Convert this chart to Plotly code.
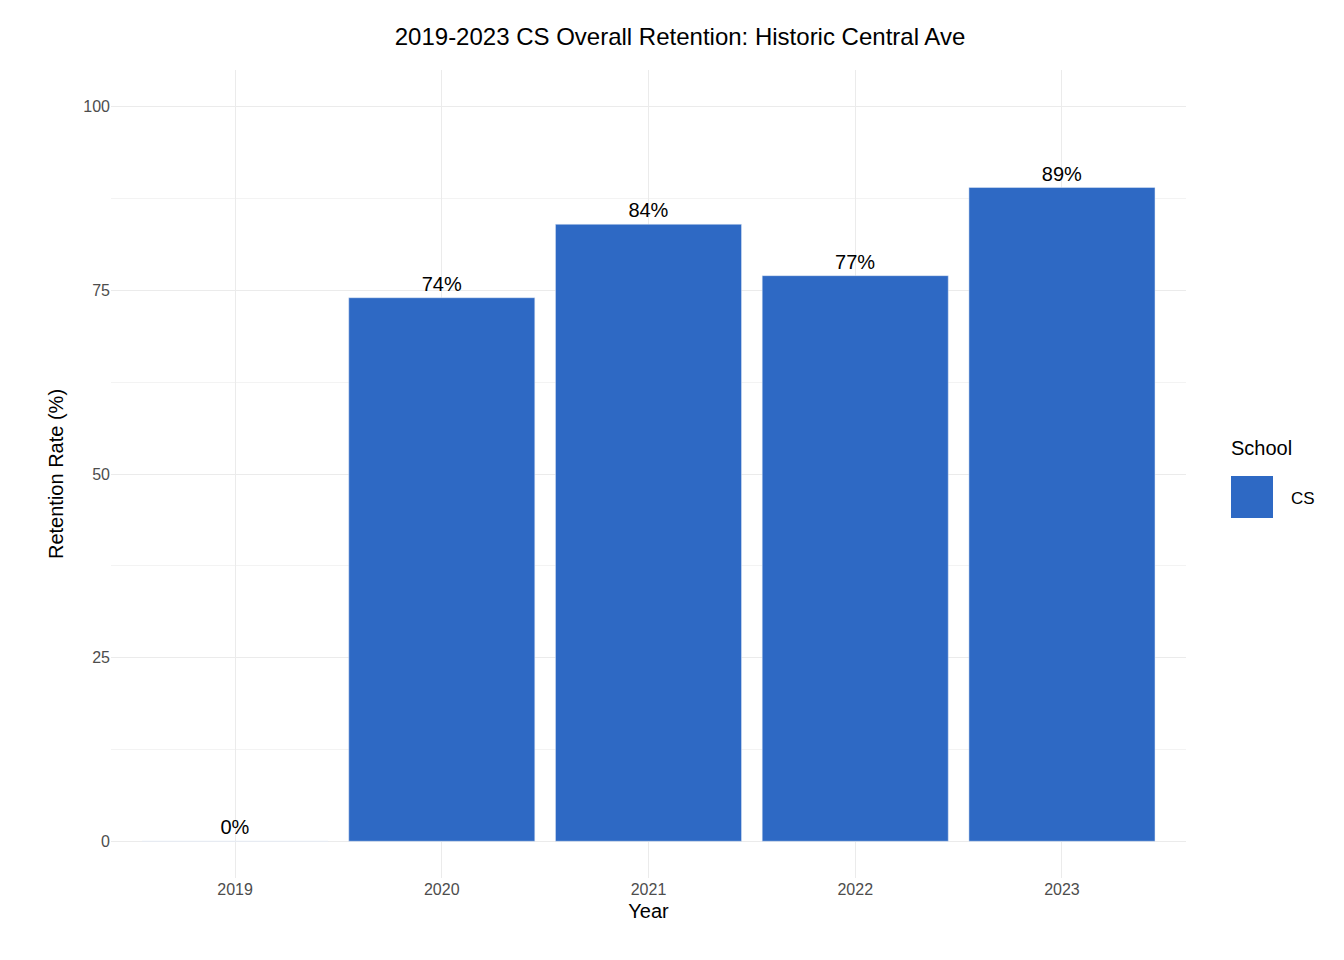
import plotly.graph_objects as go

years = ["2019", "2020", "2021", "2022", "2023"]
retention = [0, 74, 84, 77, 89]
labels = ["0%", "74%", "84%", "77%", "89%"]
bar_color = "#2E69C4"

fig = go.Figure(go.Bar(
    x=years, y=retention, text=labels, textposition="outside",
    textfont=dict(size=20, color="black"), marker_color=bar_color,
    width=0.9, cliponaxis=False, showlegend=False))

fig.update_layout(
    width=1344, height=960, plot_bgcolor="white", paper_bgcolor="white",
    font=dict(family="Liberation Sans, Arial", color="black"),
    margin=dict(l=103, r=166, t=62, b=90),
    title=dict(text="2019-2023 CS Overall Retention: Historic Central Ave",
               x=0.5, xanchor="center", y=0.97, yanchor="middle",
               font=dict(size=24)),
    xaxis=dict(type="category", range=[-0.6, 4.6], showgrid=True,
               gridcolor="#EBEBEB", tickfont=dict(size=16, color="#4D4D4D"),
               title=dict(text="Year", font=dict(size=20), standoff=6),
               ticks="", zeroline=False),
    yaxis=dict(range=[-5, 105], tickvals=[0, 25, 50, 75, 100],
               gridcolor="#EBEBEB", tickfont=dict(size=16, color="#4D4D4D"),
               minor=dict(tickvals=[12.5, 37.5, 62.5, 87.5], showgrid=True,
                          gridcolor="#F3F3F3"),
               title=dict(text="Retention Rate (%)", font=dict(size=20), standoff=14),
               zeroline=False, ticks=""),
)

fig.add_annotation(x=1222, y=440, xref="x domain", yref="y domain", text="")
fig.add_shape(type="rect", xref="paper", yref="paper",
              x0=(1223-103)/1075, x1=(1265-103)/1075,
              y0=(870-510)/808, y1=(870-468)/808,
              fillcolor=bar_color, line_width=0)
fig.add_annotation(xref="paper", yref="paper", x=(1221-103)/1075, y=(870-440)/808,
                   text="School", showarrow=False, xanchor="left",
                   font=dict(size=20, color="black"))
fig.add_annotation(xref="paper", yref="paper", x=(1281-103)/1075, y=(870-490)/808,
                   text="CS", showarrow=False, xanchor="left",
                   font=dict(size=17, color="black"))

fig.write_html("out.html")
